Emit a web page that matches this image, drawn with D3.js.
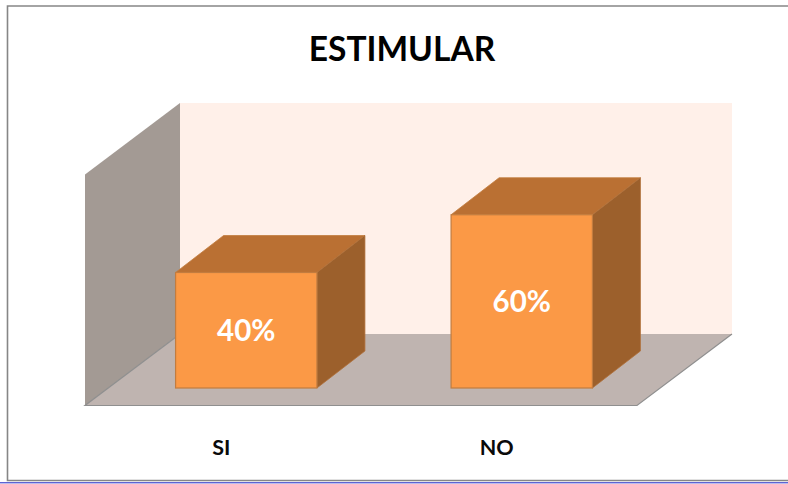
<!DOCTYPE html>
<html>
<head>
<meta charset="utf-8">
<script src="https://cdn.jsdelivr.net/npm/d3@7"></script>
<style>
html,body{margin:0;padding:0;background:#fff;overflow:hidden}
svg{display:block}
text{font-family:Lato,"Open Sans",sans-serif;font-weight:700}
</style>
</head>
<body>
<svg id="c" width="788" height="484"></svg>
<script>
const titleText = "ESTIMULAR";
const categories = ["SI", "NO"];
const values = [40, 60];
const axisMax = 80;

const svg = d3.select("#c");
const floorY = 405.5, wallDx = 95, wallDy = -71.5;
const barBase = 388, barDx = 48, barDy = -37;

const x = d3.scaleBand().domain(categories).range([108.5, 659.5]).paddingInner(0.487).paddingOuter(0.2435);
const y = d3.scaleLinear().domain([0, axisMax]).range([barBase, barBase - 231]);
const poly = pts => pts.map(p => p.join(",")).join(" ");

// outer frame
svg.append("path").attr("d", "M788,6H7.5V480.5H788").attr("fill", "none").attr("stroke", "#868686").attr("stroke-width", 1.6);
svg.append("line").attr("x1", 0).attr("x2", 788).attr("y1", 482.8).attr("y2", 482.8).attr("stroke", "#1a22c0").attr("stroke-width", 1);

// 3D walls
const fl = 85, fr = 637, wallH = 231;
svg.append("polygon").attr("fill", "#FFF0E9")
  .attr("points", poly([[fl+wallDx, floorY+wallDy-wallH],[fr+wallDx, floorY+wallDy-wallH],[fr+wallDx, floorY+wallDy],[fl+wallDx, floorY+wallDy]]));
svg.append("polygon").attr("fill", "#A39A94")
  .attr("points", poly([[fl, floorY-wallH],[fl+wallDx, floorY+wallDy-wallH],[fl+wallDx, floorY+wallDy],[fl, floorY]]));
svg.append("polygon").attr("fill", "#BFB4B0")
  .attr("points", poly([[fl, floorY],[fr, floorY],[fr+wallDx, floorY+wallDy],[fl+wallDx, floorY+wallDy]]));
svg.append("path").attr("d", `M${fl+wallDx},${floorY+wallDy}L${fl},${floorY}H${fr}L${fr+wallDx},${floorY+wallDy}`)
  .attr("fill", "none").attr("stroke", "#8f8f8f").attr("stroke-width", 1.2);

// bars
const bars = svg.selectAll("g.bar").data(categories.map((c, i) => ({c, v: values[i]}))).join("g").attr("class", "bar");
const stroke = "#C27C3F";
bars.append("polygon").attr("fill", "#BA7033").attr("stroke", stroke).attr("stroke-width", 0.8)
  .attr("points", d => { const a = x(d.c), b = a + x.bandwidth(), t = y(d.v);
    return poly([[a,t],[a+barDx,t+barDy],[b+barDx,t+barDy],[b,t]]); });
bars.append("polygon").attr("fill", "#9C602C").attr("stroke", "#B0703A").attr("stroke-width", 0.8)
  .attr("points", d => { const b = x(d.c) + x.bandwidth(), t = y(d.v);
    return poly([[b,t],[b+barDx,t+barDy],[b+barDx,barBase+barDy],[b,barBase]]); });
bars.append("rect").attr("fill", "#FB9946").attr("stroke", stroke).attr("stroke-width", 1.2)
  .attr("x", d => x(d.c)).attr("width", x.bandwidth())
  .attr("y", d => y(d.v)).attr("height", d => barBase - y(d.v));
bars.append("text").attr("fill", "#fff").attr("font-size", 29.5).attr("text-anchor", "middle")
  .attr("x", d => x(d.c) + x.bandwidth()/2)
  .attr("y", d => (y(d.v) + barBase)/2 + 10.5)
  .text(d => d.v + "%");

// category labels
svg.selectAll("text.cat").data(categories).join("text").attr("class", "cat")
  .attr("x", d => x(d) + x.bandwidth()/2 - 25).attr("y", 455).attr("text-anchor", "middle")
  .attr("font-size", 21.5).attr("fill", "#0a0a0a").text(d => d);

// title
svg.append("text").attr("x", 402).attr("y", 61).attr("text-anchor", "middle")
  .attr("font-size", 33.5).attr("fill", "#000").text(titleText);
</script>
</body>
</html>
